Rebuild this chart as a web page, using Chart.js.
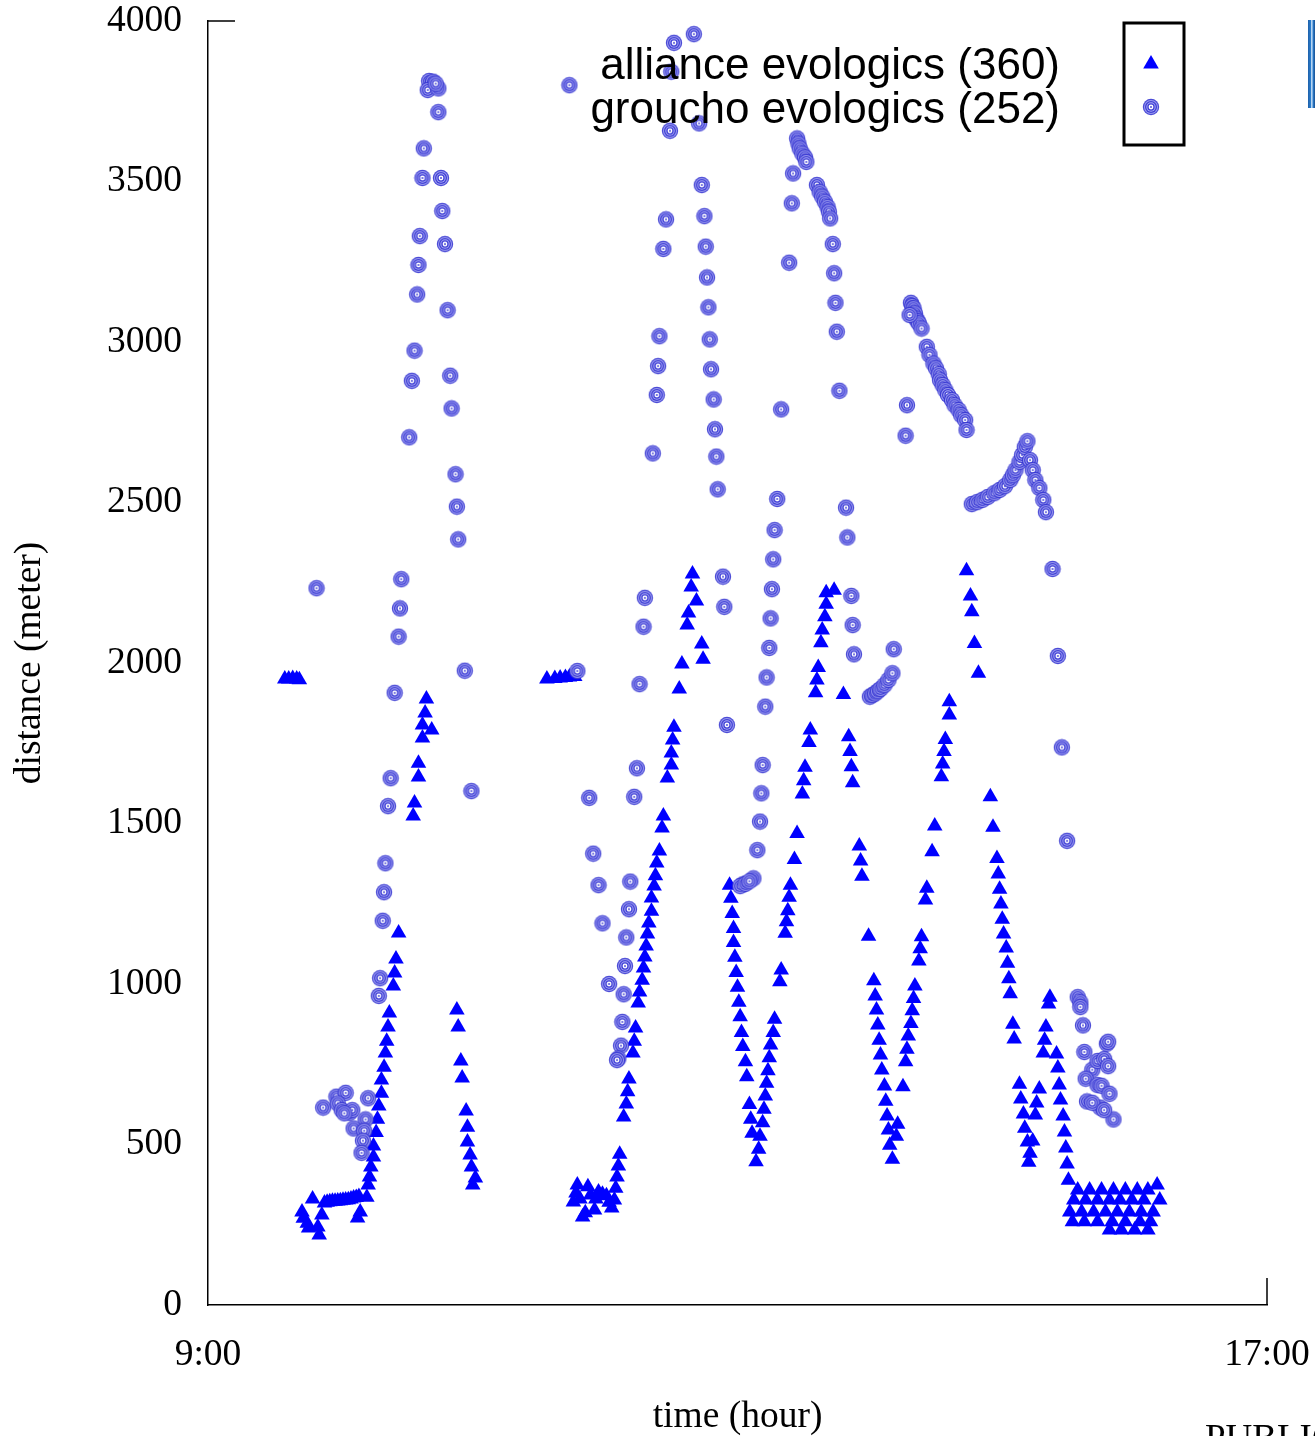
<!DOCTYPE html>
<html>
<head>
<meta charset="utf-8">
<script src="https://cdn.jsdelivr.net/npm/chart.js@4.4.1/dist/chart.umd.min.js"></script>
<style>
  html, body { margin: 0; padding: 0; background: #fff; overflow: hidden; }
  #wrap { position: relative; width: 1315px; height: 1436px; }
  #publi { position: absolute; left: 1205px; top: 1416px; font: 37px "Liberation Serif", serif; color: #000; white-space: nowrap; }
  #frag { position: absolute; left: 1308px; top: 20px; width: 7px; height: 88px;
          background: linear-gradient(90deg, #1e5fa8 0%, #2b7fd0 40%, #ffffff 55%, #2b7fd0 70%, #1a4f90 100%); }
</style>
</head>
<body>
<div id="wrap">
  <canvas id="myChart" width="1315" height="1436"></canvas>
  <div id="publi">PUBLIC</div>
  <div id="frag"></div>
</div>
<script>
// time in hours (9 = 9:00), distance in meter

const allianceMorning = [
  [9.58,1950],[9.61,1950],[9.64,1952],[9.67,1950],[9.69,1948],
  [9.71,290],[9.72,270],[9.79,330],[9.75,255],[9.76,240],[9.83,243],[9.84,218],[9.86,280],
  [9.88,318],[9.90,320],[9.92,322],[9.94,323],[9.96,323],[9.98,324],[10.00,325],[10.02,326],
  [10.04,327],[10.06,328],[10.08,330],[10.10,333],[10.12,335],[10.14,338],
  [10.15,290],[10.13,271],
  [10.20,336],[10.21,374],[10.22,399],[10.23,430],[10.25,461],[10.25,495],[10.27,537],[10.28,579],
  [10.29,620],[10.31,660],[10.31,701],[10.33,741],[10.34,785],[10.35,822],[10.36,866],[10.37,910],
  [10.40,994],[10.41,1034],[10.42,1078],[10.44,1159],
  [10.65,1888],[10.64,1844],[10.62,1807],[10.69,1791],[10.62,1766],[10.59,1688],[10.59,1645],[10.56,1564],[10.55,1523],
  [10.88,919],[10.89,866],[10.91,760],[10.92,707],[10.95,604],[10.96,554],[10.96,508],[10.98,467],
  [10.99,430],[11.02,396],[11.00,374]
];

const allianceMidday = [
  [11.56,1950],[11.62,1952],[11.66,1953],[11.70,1955],[11.73,1956],[11.77,1958],
  [11.79,374],[11.78,349],[11.76,321],[11.87,368],[11.89,343],[11.95,352],[12.01,340],[11.85,287],
  [11.83,274],[11.92,296],[11.81,330],[11.93,330],[11.98,345],[12.03,320],
  [12.05,302],[12.07,327],[12.08,364],[12.09,399],[12.10,433],[12.11,470],[12.14,586],[12.16,626],
  [12.17,664],[12.18,704],[12.21,785],[12.22,822],[12.23,863],[12.25,941],[12.26,975],[12.28,1012],
  [12.29,1050],[12.30,1084],[12.31,1118],[12.32,1156],[12.33,1190],[12.35,1227],[12.35,1268],
  [12.37,1305],[12.38,1337],[12.39,1377],[12.41,1414],[12.43,1486],[12.44,1523],[12.47,1642],
  [12.50,1682],[12.50,1720],[12.51,1760],[12.52,1800],[12.56,1919],[12.58,1997],[12.62,2118],
  [12.63,2156],[12.69,2193],[12.65,2237],[12.66,2277],[12.73,2059],[12.74,2012]
];

const allianceAfternoon = [
  [12.94,1308],[12.95,1267],[12.96,1220],[12.97,1173],[12.97,1129],[12.98,1083],[12.99,1036],
  [13.00,990],[13.01,943],[13.02,898],[13.03,849],[13.04,805],[13.06,758],[13.07,711],[13.09,625],
  [13.10,579],[13.11,535],[13.14,446],[13.16,485],[13.17,526],[13.19,568],[13.20,610],[13.21,651],
  [13.22,691],[13.23,730],[13.24,770],[13.25,810],[13.27,849],[13.28,890],[13.32,1007],[13.33,1044],
  [13.36,1158],[13.37,1194],[13.38,1228],[13.39,1270],[13.40,1308],[13.43,1388],[13.45,1469],
  [13.49,1592],[13.50,1633],[13.51,1675],[13.54,1752],[13.55,1791],[13.59,1907],[13.60,1947],
  [13.61,1986],[13.63,2063],[13.64,2103],[13.66,2144],[13.67,2183],[13.67,2219],[13.73,2227],
  [13.80,1902],[13.84,1770],[13.85,1724],[13.86,1677],[13.87,1627],[13.92,1430],[13.93,1383],
  [13.94,1336],[13.99,1149],[14.03,1010],[14.04,963],[14.05,919],[14.06,872],[14.07,825],[14.08,779],
  [14.09,732],[14.11,682],[14.12,635],[14.13,589],[14.14,545],[14.15,498],[14.17,454],[14.21,563],
  [14.20,526],[14.25,680],[14.27,758],[14.28,797],[14.29,838],[14.31,877],[14.32,917],[14.33,955],
  [14.34,994],[14.37,1072],[14.38,1110],[14.39,1147],[14.42,1262],[14.43,1298],[14.47,1412],
  [14.49,1492],[14.54,1646],[14.55,1685],[14.56,1724],[14.57,1762],[14.60,1838],[14.60,1879],
  [14.73,2287],[14.76,2209],[14.77,2160],[14.79,2061],[14.82,1968],[14.91,1583],[14.93,1488],
  [14.96,1391],[14.97,1343],[14.98,1295]
];

const allianceLate = [
  [14.99,1249],[15.00,1202],[15.01,1156],[15.03,1112],[15.04,1065],[15.05,1016],[15.06,970],
  [15.08,875],[15.09,829],[15.36,959],[15.35,938],[15.33,866],[15.32,825],[15.31,785],[15.41,782],
  [15.42,738],[15.43,685],[15.44,639],[15.46,589],[15.47,539],[15.48,489],[15.49,439],[15.50,389],
  [15.13,688],[15.14,642],[15.16,595],[15.17,551],[15.19,508],[15.21,473],[15.20,445],[15.28,673],
  [15.26,629],[15.25,592],[15.23,511],
  [15.57,358],[15.66,358],[15.75,358],[15.84,358],[15.93,358],[16.02,358],[16.10,358],[16.17,374],
  [15.54,327],[15.63,327],[15.72,327],[15.81,327],[15.89,327],[15.98,327],[16.07,327],[16.19,327],
  [15.51,290],[15.60,290],[15.69,290],[15.78,290],[15.87,290],[15.96,290],[16.05,290],[16.14,290],
  [15.53,259],[15.62,259],[15.72,259],[15.83,259],[15.93,259],[16.04,259],[16.12,259],
  [15.81,234],[15.90,234],[16.00,234],[16.10,234]
];

const grouchoMorning = [
  [9.82,2233],
  [9.87,615],[9.97,649],[10.04,661],[9.98,628],[10.01,607],[10.07,599],[10.09,607],[10.03,597],
  [10.21,644],[10.19,578],[10.10,550],[10.18,543],[10.17,512],[10.16,474],
  [10.33,1286],[10.32,1197],[10.30,1018],[10.29,963],
  [10.87,2588],[10.88,2487],[10.89,2385],[10.46,2261],[10.45,2170],[10.44,2082],[10.94,1976],
  [10.41,1907],[10.38,1641],[10.36,1554],[10.99,1601],[10.34,1376],
  [10.67,3813],[10.70,3811],[10.66,3785],[10.74,3790],[10.72,3805],[10.74,3716],[10.63,3603],
  [10.62,3511],[10.76,3511],[10.77,3408],[10.60,3330],[10.79,3305],[10.59,3240],[10.58,3148],
  [10.81,3099],[10.56,2973],[10.54,2879],[10.83,2895],[10.84,2793],[10.52,2703]
];

const grouchoMidday = [
  [12.67,3959],[12.52,3932],[12.50,3842],[11.73,3800],[12.49,3658],[12.71,3681],[12.73,3489],
  [12.46,3382],[12.75,3392],[12.44,3290],[12.76,3297],[12.77,3201],[12.78,3108],[12.41,3018],
  [12.79,3008],[12.40,2925],[12.80,2915],[12.39,2835],[12.82,2821],[12.83,2728],[12.36,2653],
  [12.84,2643],[12.85,2541],[12.89,2269],[12.90,2175],[12.30,2203],[12.29,2113],[11.79,1975],
  [12.26,1934],[12.92,1807],[12.24,1672],[12.22,1583],[11.88,1580],[11.91,1406],[11.95,1308],
  [12.19,1319],[12.18,1233],[11.98,1189],[12.16,1145],[12.15,1056],[12.03,1000],[12.14,968],
  [12.13,882],[12.12,808],[12.10,768],[12.09,763]
];

const grouchoAfternoon = [
  [13.45,3634],[13.46,3618],[13.47,3603],[13.49,3587],[13.51,3575],[13.52,3561],[13.42,3525],
  [13.41,3432],[13.60,3489],[13.62,3468],[13.64,3453],[13.66,3437],[13.68,3421],[13.69,3406],
  [13.70,3385],[13.72,3305],[13.73,3214],[13.74,3122],[13.75,3032],[13.77,2848],[13.39,3247],
  [13.33,2790],[14.28,2803],[14.27,2708],
  [14.31,3122],[14.32,3112],[14.33,3105],[14.34,3089],[14.35,3073],[14.36,3065],[14.37,3058],
  [14.39,3042],[14.30,3084],[14.43,2985],[14.45,2960],[14.48,2933],[14.50,2918],[14.52,2900],
  [14.53,2881],[14.55,2866],[14.57,2850],[14.59,2835],[14.62,2819],[14.64,2803],[14.67,2788],
  [14.69,2772],[14.72,2757],[14.73,2726],
  [13.30,2511],[13.28,2414],[13.27,2323],[13.26,2230],[13.25,2139],[13.24,2047],[13.22,1955],
  [13.21,1864],[13.19,1682],[13.18,1594],[13.17,1506],[13.15,1417],[13.12,1329],[13.04,1310],
  [13.02,1305],[13.06,1312],[13.09,1320],
  [13.82,2484],[13.83,2391],[13.86,2209],[13.87,2118],[13.88,2027],[14.18,2043],[14.00,1895],
  [14.02,1900],[14.04,1905],[14.06,1912],[14.08,1919],[14.11,1931],[14.14,1947],[14.17,1968]
];

const grouchoLate = [
  [14.77,2495],[14.81,2501],[14.85,2508],[14.89,2517],[14.94,2529],[14.98,2539],[15.02,2551],
  [15.06,2570],[15.08,2585],[15.10,2601],[15.13,2626],[15.15,2648],[15.17,2673],[15.19,2691],
  [15.21,2632],[15.23,2601],[15.25,2570],[15.28,2545],[15.31,2508],[15.33,2470],
  [15.38,2293],[15.42,2022],[15.45,1737],[15.49,1446],
  [15.57,959],[15.59,943],[15.59,928],[15.61,871],[15.79,814],[15.80,820],[15.62,788],[15.68,733],
  [15.72,760],[15.77,766],[15.80,744],[15.63,705],[15.72,685],[15.75,683],[15.81,658],[15.64,634],
  [15.74,615],[15.84,578],[15.68,630],[15.77,607]
];

const seriesNames = ["alliance evologics (360)", "groucho evologics (252)"];
const xTicks = [9, 17];
const yMin = 0, yMax = 4000, yStep = 500;

const toXY = arr => arr.map(p => ({ x: p[0], y: p[1] }));

// target-like ring marker used for groucho
function makeRing() {
  const c = document.createElement("canvas");
  c.width = 18; c.height = 18;
  const g = c.getContext("2d");
  const disk = (r, col) => { g.beginPath(); g.arc(9, 9, r, 0, Math.PI * 2); g.fillStyle = col; g.fill(); };
  disk(8.2, "rgba(55,55,210,0.9)");
  disk(7.0, "rgba(160,160,240,0.95)");
  disk(6.0, "rgba(60,60,212,0.95)");
  disk(4.7, "rgba(170,170,242,1)");
  disk(3.7, "rgba(65,65,215,1)");
  disk(2.4, "#ffffff");
  disk(1.0, "#5050d8");
  return c;
}
const ring = makeRing();

const serif = '"Liberation Serif", "Times New Roman", serif';

// no automatic edge padding: the plot box is fixed by the layout padding
function noEdgePad(s) {
  s.paddingLeft = 0; s.paddingRight = 0; s.paddingTop = 0; s.paddingBottom = 0;
}

// ticks only at the ends of the axes, and the boxed legend
const framePlugin = {
  id: "frame",
  afterDraw(chart) {
    const ctx = chart.ctx;
    const xs = chart.scales.x, ys = chart.scales.y;
    ctx.save();
    ctx.strokeStyle = "#000";
    ctx.lineWidth = 1.5;
    ctx.beginPath();
    const yTop = ys.getPixelForValue(yMax);
    ctx.moveTo(xs.left, yTop); ctx.lineTo(xs.left + 27, yTop);
    const xEnd = xs.getPixelForValue(xTicks[1]);
    ctx.moveTo(xEnd, ys.bottom); ctx.lineTo(xEnd, ys.bottom - 27);
    ctx.stroke();

    // legend
    ctx.font = '44px "Liberation Sans", Arial, sans-serif';
    ctx.fillStyle = "#000";
    ctx.textAlign = "right";
    ctx.textBaseline = "alphabetic";
    ctx.fillText(seriesNames[0], 1060, 79);
    ctx.fillText(seriesNames[1], 1060, 123);
    ctx.lineWidth = 3;
    ctx.strokeRect(1124, 23, 60, 122);
    ctx.fillStyle = "#0000ff";
    Chart.helpers.drawPoint(ctx, { pointStyle: "triangle", radius: 9, rotation: 0, borderWidth: 0 }, 1151, 64);
    ctx.drawImage(ring, 1151 - 9, 107 - 9);
    ctx.restore();
  }
};

const ctx = document.getElementById("myChart");

new Chart(ctx.getContext("2d"), {
  type: "scatter",
  data: {
    datasets: [
      {
        label: seriesNames[0],
        data: toXY([].concat(allianceMorning, allianceMidday, allianceAfternoon, allianceLate)),
        pointStyle: "triangle",
        pointRadius: 9,
        backgroundColor: "#0000ff",
        borderColor: "#0000ff",
        borderWidth: 0,
        order: 1
      },
      {
        label: seriesNames[1],
        data: toXY([].concat(grouchoMorning, grouchoMidday, grouchoAfternoon, grouchoLate)),
        pointStyle: ring,
        pointRadius: 9,
        order: 0
      }
    ]
  },
  options: {
    responsive: false,
    animation: false,
    devicePixelRatio: 1,
    layout: { padding: { top: 21, right: 48, left: 0, bottom: 0 } },
    plugins: {
      legend: { display: false },
      tooltip: { enabled: false }
    },
    scales: {
      x: {
        type: "linear",
        min: xTicks[0],
        max: xTicks[1],
        afterBuildTicks: s => { s.ticks = xTicks.map(v => ({ value: v })); },
        afterFit: s => { s.height = 131; noEdgePad(s); },
        grid: { display: false, drawTicks: false },
        border: { display: true, color: "#000", width: 1.5 },
        ticks: {
          autoSkip: false,
          maxRotation: 0,
          padding: 28,
          color: "#000",
          font: { family: serif, size: 37.5 },
          callback: v => v + ":00"
        },
        title: {
          display: true,
          text: "time (hour)",
          color: "#000",
          font: { family: serif, size: 37.5, lineHeight: 1.0 },
          padding: { top: 0, bottom: 0 }
        }
      },
      y: {
        min: yMin,
        max: yMax,
        afterFit: s => { s.width = 208; noEdgePad(s); },
        grid: { display: false, drawTicks: false },
        border: { display: true, color: "#000", width: 1.5 },
        ticks: {
          stepSize: yStep,
          padding: 26,
          color: "#000",
          font: { family: serif, size: 37.5 },
          callback: v => String(v)
        },
        title: {
          display: true,
          text: "distance (meter)",
          color: "#000",
          font: { family: serif, size: 37.5, lineHeight: 1.0 },
          padding: { top: 11, bottom: 0 }
        }
      }
    }
  },
  plugins: [framePlugin]
});
</script>
</body>
</html>
